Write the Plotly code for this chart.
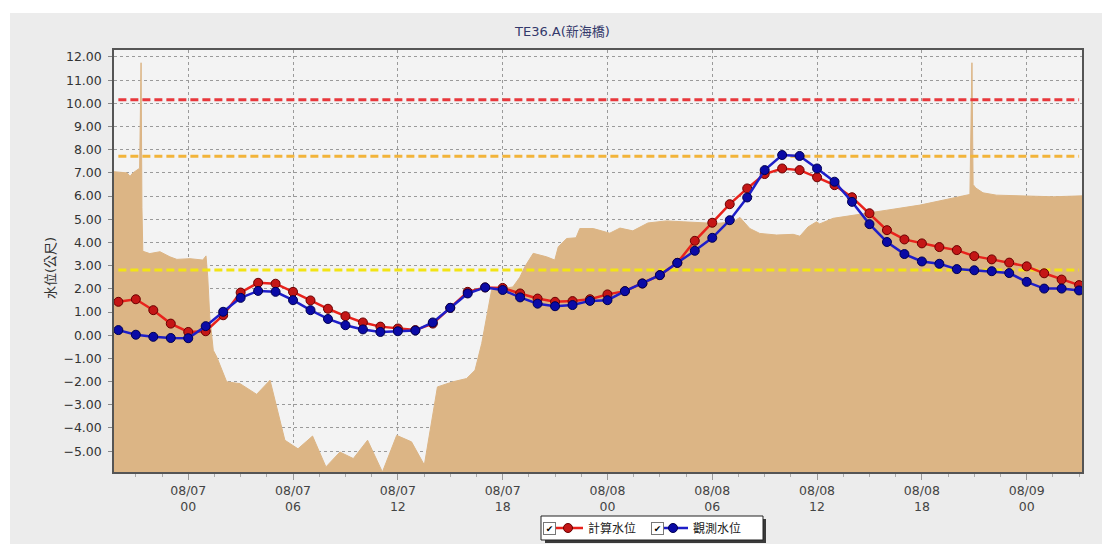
import plotly.graph_objects as go
import pandas as pd

# ---------------- data ----------------
hours = pd.date_range("2015-08-06 20:00", "2015-08-09 03:00", freq="h")

calc_level = [1.44, 1.55, 1.08, 0.50,
              0.14, 0.17, 0.86, 1.84, 2.26, 2.22, 1.87, 1.50, 1.14, 0.82, 0.55, 0.37,
              0.29, 0.22, 0.50, 1.18, 1.87, 2.06, 2.04, 1.80, 1.58, 1.44, 1.47, 1.55,
              1.76, 1.90, 2.23, 2.59, 3.12, 4.07, 4.85, 5.65, 6.33, 6.95, 7.19, 7.12,
              6.81, 6.47, 5.95, 5.26, 4.53, 4.13, 3.96, 3.80, 3.67, 3.41, 3.27, 3.13,
              2.97, 2.67, 2.40, 2.16]

obs_level = [0.22, 0.02, -0.07, -0.12,
             -0.13, 0.39, 1.01, 1.61, 1.91, 1.87, 1.51, 1.08, 0.70, 0.43, 0.25, 0.14,
             0.17, 0.20, 0.55, 1.18, 1.80, 2.06, 1.95, 1.63, 1.36, 1.25, 1.30, 1.48,
             1.51, 1.90, 2.23, 2.59, 3.12, 3.64, 4.20, 4.96, 5.94, 7.12, 7.77, 7.73,
             7.19, 6.62, 5.75, 4.79, 4.02, 3.50, 3.18, 3.08, 2.85, 2.80, 2.76, 2.68,
             2.30, 2.01, 2.01, 1.93]

area_times = [
    "2015-08-06 19:45", "2015-08-06 20:30", "2015-08-06 20:40", "2015-08-06 20:50",
    "2015-08-06 21:13", "2015-08-06 21:18", "2015-08-06 21:21", "2015-08-06 21:24",
    "2015-08-06 21:48", "2015-08-06 22:23", "2015-08-06 22:57", "2015-08-06 23:21",
    "2015-08-07 00:06", "2015-08-07 00:50", "2015-08-07 01:01", "2015-08-07 01:07",
    "2015-08-07 01:14", "2015-08-07 01:26", "2015-08-07 01:38", "2015-08-07 02:12",
    "2015-08-07 02:58", "2015-08-07 03:55", "2015-08-07 04:41", "2015-08-07 05:32",
    "2015-08-07 06:17", "2015-08-07 07:07", "2015-08-07 07:53", "2015-08-07 08:41",
    "2015-08-07 09:27", "2015-08-07 10:16", "2015-08-07 11:07", "2015-08-07 11:56",
    "2015-08-07 12:47", "2015-08-07 13:31", "2015-08-07 14:16", "2015-08-07 15:09",
    "2015-08-07 15:56", "2015-08-07 16:25", "2015-08-07 16:48", "2015-08-07 17:10",
    "2015-08-07 17:22", "2015-08-07 18:35", "2015-08-07 18:59", "2015-08-07 19:16",
    "2015-08-07 19:45", "2015-08-07 20:31", "2015-08-07 20:59", "2015-08-07 21:11",
    "2015-08-07 21:40", "2015-08-07 22:12", "2015-08-07 22:25", "2015-08-07 23:11",
    "2015-08-07 23:41", "2015-08-08 00:08", "2015-08-08 00:43", "2015-08-08 01:27",
    "2015-08-08 02:19", "2015-08-08 03:23", "2015-08-08 04:20", "2015-08-08 05:17",
    "2015-08-08 06:15", "2015-08-08 07:12", "2015-08-08 07:35", "2015-08-08 08:09",
    "2015-08-08 08:43", "2015-08-08 09:41", "2015-08-08 10:38", "2015-08-08 11:01",
    "2015-08-08 11:29", "2015-08-08 11:58", "2015-08-08 12:09", "2015-08-08 12:55",
    "2015-08-08 14:04", "2015-08-08 15:59", "2015-08-08 17:53", "2015-08-08 19:47",
    "2015-08-08 20:45", "2015-08-08 20:52", "2015-08-08 20:56", "2015-08-08 21:05",
    "2015-08-08 21:30", "2015-08-08 22:16", "2015-08-09 00:00", "2015-08-09 01:31",
    "2015-08-09 03:10"]

area_values = [
    7.05, 7.00, 6.85, 7.00,
    7.20, 11.75, 5.50, 3.62,
    3.52, 3.60, 3.38, 3.27,
    3.30, 3.24, 3.42, 2.52,
    0.79, -0.65, -0.94, -2.01,
    -2.09, -2.55, -1.94, -4.53,
    -4.90, -4.35, -5.68, -5.04,
    -5.32, -4.53, -5.90, -4.32,
    -4.60, -5.60, -2.23, -2.01,
    -1.87, -1.51, -0.36, 1.08,
    1.94, 2.08, 2.50, 2.95,
    3.53, 3.38, 3.24, 3.81,
    4.17, 4.20, 4.60, 4.60,
    4.50, 4.40, 4.62, 4.50,
    4.84, 4.93, 4.89, 4.85,
    4.82, 4.89, 5.08, 4.60,
    4.39, 4.32, 4.35, 4.27,
    4.67, 4.89, 4.80, 5.04,
    5.18, 5.39, 5.61, 5.90,
    6.07, 11.75, 6.50, 6.35,
    6.14, 6.04, 6.00, 5.97,
    6.01]

warn_levels = [10.15, 7.72, 2.81]
warn_colors = ["#e8383c", "#f2b43a", "#f2e414"]

x_range = ["2015-08-06 19:45", "2015-08-09 03:10"]
y_range = [-5.9, 12.3]

# ---------------- geometry helpers (plot area in px) ----------------
W, H = 1102, 544
L, R, T, B = 114, 20, 50, 72
PW, PH = W - L - R, H - T - B


def px(x):
    return (x - L) / PW


def py(y):
    return (H - B - y) / PH


FONT = "DejaVu Sans, Noto Sans CJK TC, sans-serif"

fig = go.Figure()

# baseline for area fill (bottom of the plot)
fig.add_trace(go.Scatter(x=[area_times[0], area_times[-1]], y=[y_range[0] - 1, y_range[0] - 1],
                         mode="lines", line=dict(width=0), showlegend=False, hoverinfo="skip"))
fig.add_trace(go.Scatter(x=area_times, y=area_values, mode="lines", fill="tonexty",
                         fillcolor="#dcb585", line=dict(color="#dcb585", width=1),
                         showlegend=False, hoverinfo="skip"))

for lvl, col in zip(warn_levels, warn_colors):
    fig.add_trace(go.Scatter(x=[hours[0], hours[-1]], y=[lvl, lvl], mode="lines",
                             line=dict(color=col, width=3, dash="8px,4px"),
                             showlegend=False, hoverinfo="skip"))

fig.add_trace(go.Scatter(x=hours, y=calc_level, mode="lines+markers", name="計算水位",
                         line=dict(color="#e8221c", width=2.5),
                         marker=dict(size=9, color="#c41616", line=dict(color="#6a0000", width=1))))
fig.add_trace(go.Scatter(x=hours, y=obs_level, mode="lines+markers", name="觀測水位",
                         line=dict(color="#1e1ec8", width=2.5),
                         marker=dict(size=9, color="#0a0aa6", line=dict(color="#000050", width=1))))

shapes = [
    # white margins outside the grey panel
    dict(type="rect", xref="paper", yref="paper", x0=-0.3, x1=1.2, y0=py(13), y1=1.3,
         fillcolor="white", line=dict(width=0), layer="below"),
    dict(type="rect", xref="paper", yref="paper", x0=-0.3, x1=px(10), y0=-0.3, y1=1.3,
         fillcolor="white", line=dict(width=0), layer="below"),
    # legend box with shadow
    dict(type="rect", xref="paper", yref="paper", x0=px(545), x1=px(766), y0=py(543), y1=py(519),
         fillcolor="#3a3a3a", line=dict(width=0), layer="below"),
    dict(type="rect", xref="paper", yref="paper", x0=px(541), x1=px(763), y0=py(540), y1=py(516),
         fillcolor="white", line=dict(color="#222", width=1), layer="below"),
]

annotations = [
    dict(text="TE36.A(新海橋)", xref="paper", yref="paper", x=px(562), y=py(32),
         xanchor="center", yanchor="middle",
         showarrow=False, font=dict(size=13, color="#33396b", family=FONT)),
    dict(text="水位(公尺)", xref="paper", yref="paper", x=px(50), y=py(268), textangle=-90,
         xanchor="center", yanchor="middle",
         showarrow=False, font=dict(size=13, color="#333", family=FONT)),
]
for cx in (549, 657):
    annotations.append(dict(text="✔", xref="paper", yref="paper", x=px(cx), y=py(528),
                            xanchor="center", yanchor="middle",
                            showarrow=False, font=dict(size=9, color="#000", family=FONT),
                            bgcolor="white", bordercolor="#777", borderwidth=1, borderpad=0,
                            width=11, height=11))

fig.update_layout(
    width=W, height=H,
    margin=dict(l=L, r=R, t=T, b=B, autoexpand=False),
    paper_bgcolor="#ececec",
    plot_bgcolor="#f3f3f3",
    font=dict(family=FONT, size=12, color="#333"),
    shapes=shapes,
    annotations=annotations,
    showlegend=True,
    legend=dict(orientation="h", traceorder="normal", x=px(548), xanchor="left",
                y=py(528), yanchor="middle",
                bgcolor="rgba(0,0,0,0)", borderwidth=0, entrywidth=60,
                font=dict(size=12, color="#222", family=FONT)),
    xaxis=dict(type="date", range=x_range, tick0="2015-08-07 00:00", dtick=6 * 3600000,
               tickformat="%m/%d<br>%H", ticks="outside", ticklen=6, tickcolor="#999",
               showgrid=True, gridcolor="#9a9a9a", griddash="dot", gridwidth=1,
               showline=True, linecolor="#555", linewidth=1.5, mirror=True,
               tickfont=dict(size=12.5, color="#444"),
               minor=dict(dtick=1.5 * 3600000, ticks="outside", ticklen=3, tickcolor="#aaa",
                          showgrid=False)),
    yaxis=dict(range=y_range, tick0=0, dtick=1, tickformat=".2f", ticks="outside", ticklen=4,
               tickcolor="#888", ticklabelstandoff=4,
               showgrid=True, gridcolor="#9a9a9a", griddash="dot", gridwidth=1, zeroline=False,
               showline=True, linecolor="#555", linewidth=1.5, mirror=True,
               tickfont=dict(size=12.5, color="#333")),
)

fig.write_html("out.html", config={"displayModeBar": False},
               post_script="document.body.style.margin='0px';document.body.style.overflow='hidden';")
